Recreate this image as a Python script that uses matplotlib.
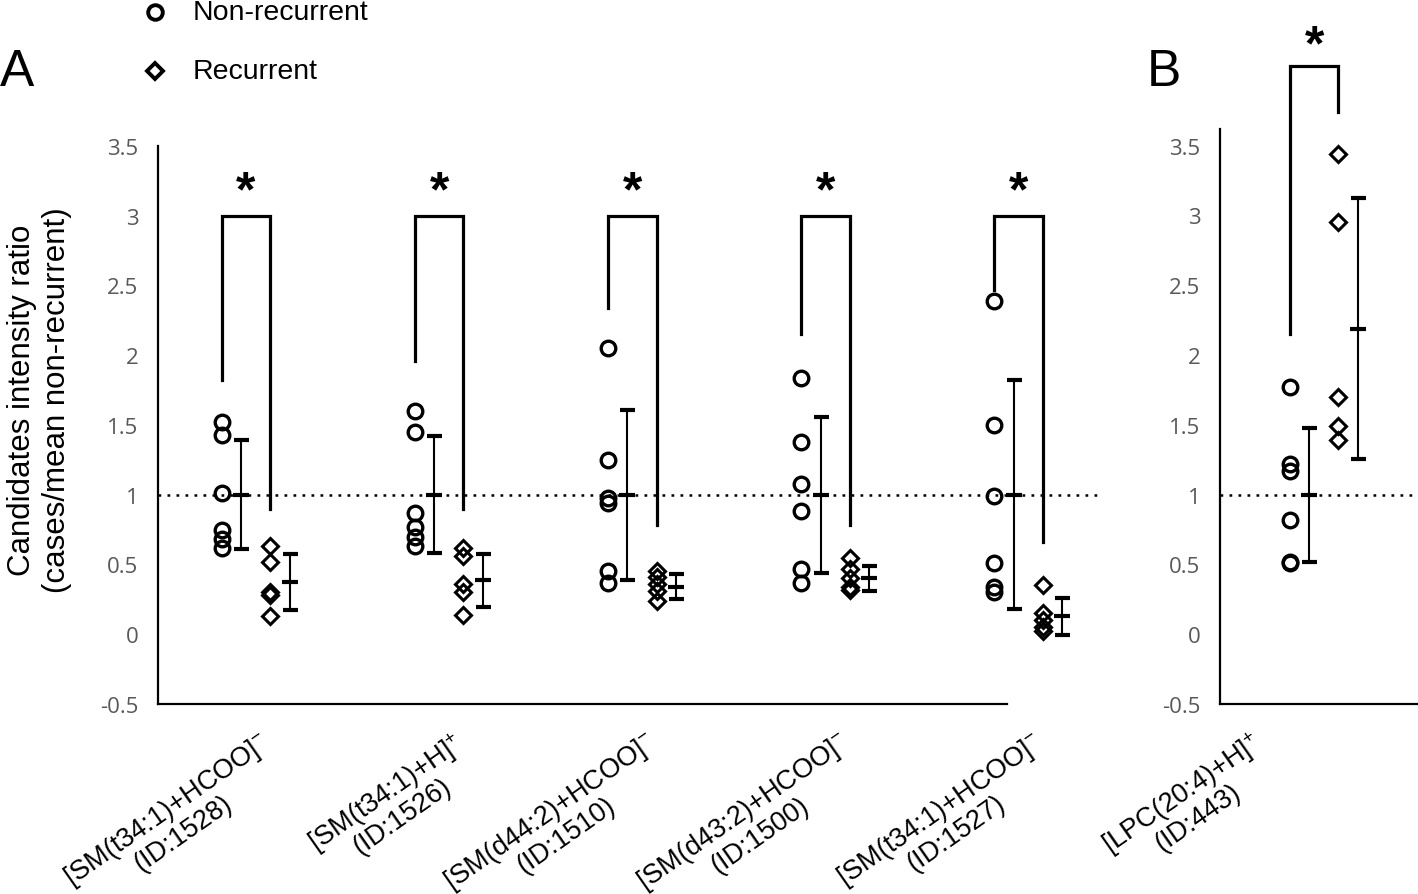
import numpy as np
import matplotlib
matplotlib.use("Agg")
import matplotlib.pyplot as plt
from matplotlib.lines import Line2D
from matplotlib.transforms import blended_transform_factory

plt.rcParams.update({
    "font.family": ["Liberation Sans", "DejaVu Sans"],
    "mathtext.fontset": "custom",
    "mathtext.rm": "Liberation Sans",
    "mathtext.it": "Liberation Sans",
    "mathtext.bf": "Liberation Sans:bold",
    "mathtext.default": "regular",
})

# ------------------------------------------------------------------ data
LABELS_A = [
    ("[SM(t34:1)+HCOO]$^{-}$", "(ID:1528)"),
    ("[SM(t34:1)+H]$^{+}$", "(ID:1526)"),
    ("[SM(d44:2)+HCOO]$^{-}$", "(ID:1510)"),
    ("[SM(d43:2)+HCOO]$^{-}$", "(ID:1500)"),
    ("[SM(t34:1)+HCOO]$^{-}$", "(ID:1527)"),
]
LABEL_B = ("[LPC(20:4)+H]$^{+}$", "(ID:443)")

# individual cases (ratio to mean non-recurrent)
NONREC_A = [
    [1.52, 1.43, 1.01, 0.75, 0.68, 0.62],
    [1.60, 1.45, 0.87, 0.77, 0.70, 0.63],
    [2.05, 1.25, 0.98, 0.94, 0.45, 0.37],
    [1.84, 1.38, 1.08, 0.88, 0.47, 0.37],
    [2.39, 1.50, 0.99, 0.51, 0.34, 0.30],
]
REC_A = [
    [0.63, 0.52, 0.30, 0.28, 0.13],
    [0.62, 0.56, 0.36, 0.30, 0.14],
    [0.45, 0.41, 0.36, 0.31, 0.24],
    [0.55, 0.47, 0.40, 0.34, 0.32],
    [0.35, 0.15, 0.10, 0.05, 0.02],
]
NONREC_B = [1.77, 1.22, 1.17, 0.82, 0.52, 0.51]
REC_B = [3.44, 2.95, 1.70, 1.49, 1.39]

# mean +/- SD as drawn
NONREC_MEAN_A = [1.00, 1.00, 1.00, 1.00, 1.00]
NONREC_SD_A = [0.39, 0.42, 0.61, 0.56, 0.82]
REC_MEAN_A = [0.375, 0.386, 0.34, 0.40, 0.128]
REC_SD_A = [0.20, 0.19, 0.09, 0.09, 0.135]
NONREC_MEAN_B, NONREC_SD_B = 1.00, 0.48
REC_MEAN_B, REC_SD_B = 2.19, 0.935

# significance brackets: top, left leg end, right leg end
BRACKET_TOP_A = [3.0, 3.0, 3.0, 3.0, 3.0]
BRACKET_LEFT_A = [1.82, 1.96, 2.34, 2.15, 2.47]
BRACKET_RIGHT_A = [0.90, 0.90, 0.78, 0.78, 0.66]
BRACKET_B = (4.07, 2.15, 3.74)

YTICKS = [-0.5, 0, 0.5, 1, 1.5, 2, 2.5, 3, 3.5]
YTICKLABELS = ["-0.5", "0", "0.5", "1", "1.5", "2", "2.5", "3", "3.5"]

# ------------------------------------------------------------------ style
DX_REC = 0.251     # recurrent column offset from non-recurrent column
DX_ERR = 0.10      # error bar offset from its scatter column
TICK_GREY = "#595959"
LAB_ROT = 35
LAB_FS = 19.5

fig = plt.figure(figsize=(14.18, 8.95), dpi=100)
ax_a = fig.add_axes([0.1114, 0.2123, 0.5987, 0.6235])
ax_b = fig.add_axes([0.8604, 0.2123, 0.1396, 0.6425])


def draw_group(ax, x0, nonrec, rec, nr_mean, nr_sd, r_mean, r_sd,
               top, left_end, right_end):
    xr = x0 + DX_REC
    ax.plot([x0] * len(nonrec), nonrec, "o", ms=10.5, mfc="none", mec="black",
            mew=2.4, zorder=4, clip_on=False)
    ax.plot([xr] * len(rec), rec, "D", ms=8.5, mfc="none", mec="black",
            mew=2.2, zorder=4, clip_on=False)
    for xe, m, s in ((x0 + DX_ERR, nr_mean, nr_sd), (xr + DX_ERR, r_mean, r_sd)):
        ax.errorbar([xe], [m], yerr=[s], fmt="_", ms=11, mew=3, color="black",
                    elinewidth=1.5, capsize=5.4, capthick=3, zorder=5,
                    clip_on=False)
    ax.plot([x0, x0, xr, xr], [left_end, top, top, right_end], color="black",
            lw=2.3, solid_joinstyle="miter", zorder=3, clip_on=False)


def category_label(ax, x, lines):
    """Two-line rotated label; line 2 centred under line 1."""
    tr = blended_transform_factory(ax.transData, fig.transFigure)
    t1 = ax.text(x, 0.186, lines[0], transform=tr, rotation=LAB_ROT,
                 rotation_mode="anchor", ha="right", va="top",
                 fontsize=LAB_FS, clip_on=False)
    step = 20.5
    ang = np.deg2rad(LAB_ROT)
    ax.annotate(lines[1], xy=(0.5, 0.5), xycoords=t1,
                xytext=(step * np.sin(ang), -step * np.cos(ang)),
                textcoords="offset points", rotation=LAB_ROT,
                rotation_mode="anchor", ha="center", va="center",
                fontsize=LAB_FS, annotation_clip=False)


pos_a = np.arange(len(LABELS_A))
for i, x0 in enumerate(pos_a):
    draw_group(ax_a, x0, NONREC_A[i], REC_A[i], NONREC_MEAN_A[i],
               NONREC_SD_A[i], REC_MEAN_A[i], REC_SD_A[i],
               BRACKET_TOP_A[i], BRACKET_LEFT_A[i], BRACKET_RIGHT_A[i])
    ax_a.text(x0 + DX_REC / 2, BRACKET_TOP_A[i] + 0.17, "*", ha="center",
              va="center", fontsize=36, fontweight="bold")
    category_label(ax_a, x0 + 0.19, LABELS_A[i])

draw_group(ax_b, 0, NONREC_B, REC_B, NONREC_MEAN_B, NONREC_SD_B,
           REC_MEAN_B, REC_SD_B, *BRACKET_B)
ax_b.text(DX_REC / 2, BRACKET_B[0] + 0.14, "*", ha="center", va="center",
          fontsize=36, fontweight="bold", clip_on=False)
category_label(ax_b, -0.21, LABEL_B)

for ax, xlim, ylim, dot_end in ((ax_a, (-0.33, 4.065), (-0.5, 3.5), 4.536),
                                (ax_b, (-0.362, 0.663), (-0.5, 3.62), 0.663)):
    ax.plot([xlim[0], dot_end], [1.0, 1.0], color="black", lw=1.8,
            dashes=(1.1, 2.5), zorder=2, clip_on=False)
    ax.set_xlim(*xlim)
    ax.set_ylim(*ylim)
    ax.set_xticks([])
    ax.set_yticks(YTICKS)
    ax.set_yticklabels(YTICKLABELS, family="Open Sans", fontsize=16,
                       color=TICK_GREY)
    ax.tick_params(axis="y", length=0, pad=14)
    for side in ("top", "right"):
        ax.spines[side].set_visible(False)
    for side in ("left", "bottom"):
        ax.spines[side].set_linewidth(1.6)

fig.text(0.028, 0.553, "Candidates intensity ratio\n(cases/mean non-recurrent)",
         rotation=90, ha="center", va="center", multialignment="center",
         fontsize=22.5)

# panel letters
fig.text(0.0, 1 - 73 / 895, "A", ha="left", va="center", fontsize=37)
fig.text(1147 / 1418, 1 - 73 / 895, "B", ha="left", va="center", fontsize=37)

# legend
for yy, mk, ms, lab in ((13, "o", 10.5, "Non-recurrent"),
                        (72, "D", 8.5, "Recurrent")):
    fig.add_artist(Line2D([155 / 1418], [1 - yy / 895], marker=mk, ms=ms,
                          mfc="none", mec="black", mew=2.8, ls="none",
                          transform=fig.transFigure))
    fig.text(193 / 1418, 1 - yy / 895, lab, ha="left", va="center",
             fontsize=20.5)

fig.savefig("out.png", dpi=100)
